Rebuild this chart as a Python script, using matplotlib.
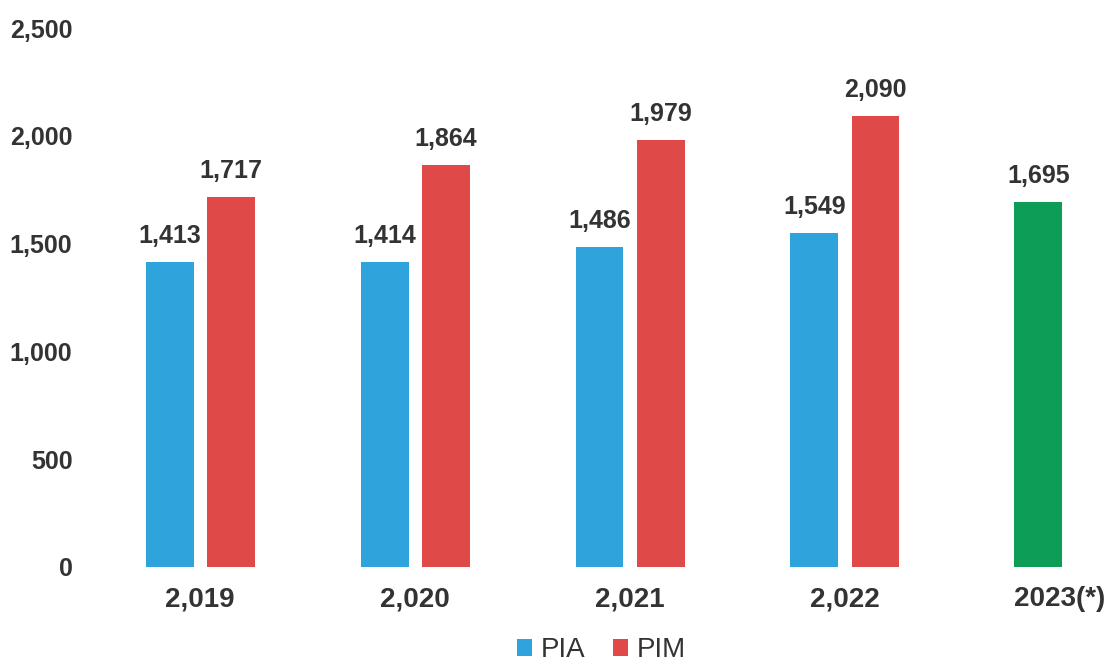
import numpy as np
import matplotlib.pyplot as plt

plt.rcParams['font.family'] = ['Liberation Sans', 'DejaVu Sans']

years = ['2,019', '2,020', '2,021', '2,022', '2023(*)']
pia = [1413, 1414, 1486, 1549]
pim = [1717, 1864, 1979, 2090]
val_2023 = [1695]

c_pia = '#2fa4dc'
c_pim = '#df4a48'
c_2023 = '#0e9d57'
txt = '#333333'

fig = plt.figure(figsize=(11.14, 6.70), dpi=100)
ax = fig.add_axes([0.09, 0.154, 0.90, 0.804])

x = np.arange(len(pia))
w = 0.223
off = 0.142

b1 = ax.bar(x - off, pia, w, color=c_pia, label='PIA')
b2 = ax.bar(x + off, pim, w, color=c_pim, label='PIM')
b3 = ax.bar([4 - 0.1], val_2023, w, color=c_2023)

for bars in (b1, b2, b3):
    for b in bars:
        ax.text(b.get_x() + b.get_width() / 2, b.get_height() + 65,
                f'{b.get_height():,.0f}', ha='center', va='bottom',
                fontsize=18, fontweight='bold', color=txt)

ax.set_ylim(0, 2500)
ax.set_xlim(-0.465, 4.2)
ax.set_yticks(np.arange(0, 2501, 500))
ax.set_yticklabels([f'{v:,}' for v in range(0, 2501, 500)])
ax.set_xticks(np.arange(5))
ax.set_xticklabels(years)

ax.tick_params(axis='y', length=0, pad=20, labelsize=18, labelcolor=txt)
ax.tick_params(axis='x', length=0, pad=14, labelsize=20, labelcolor=txt)
for lab in ax.get_xticklabels() + ax.get_yticklabels():
    lab.set_fontweight('bold')

for s in ax.spines.values():
    s.set_visible(False)

leg = ax.legend(loc='lower center', bbox_to_anchor=(0.5, -0.215), ncol=2,
                frameon=False, fontsize=20, handlelength=0.55, handleheight=0.55,
                handletextpad=0.3, columnspacing=1.0, labelcolor=txt,
                borderpad=0.2)

fig.savefig('out.png', dpi=100)
